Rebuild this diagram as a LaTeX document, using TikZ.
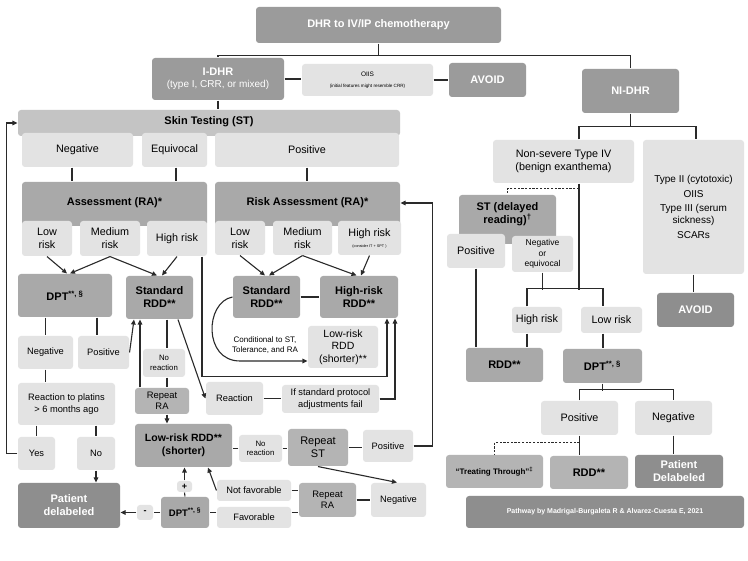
\documentclass[tikz,border=0pt]{standalone}
\usepackage{fontspec}
\setmainfont{Liberation Sans}
\usetikzlibrary{arrows.meta}
\definecolor{cdk}{HTML}{9B9B9B}
\definecolor{cdx}{HTML}{8E8E8E}
\definecolor{cmd}{HTML}{A9A9A9}
\definecolor{cmr}{HTML}{B4B4B4}
\definecolor{cst}{HTML}{C4C4C4}
\definecolor{clt}{HTML}{E3E3E3}
\definecolor{cln}{HTML}{2A2A2A}
\newcommand\fz[2]{\fontsize{#1}{#2}\selectfont}
\newcommand\bx[7]{\node[#2,minimum width={(#5-#3)*1pt},minimum height={(#6-#4)*1pt}] (#1) at ({(#3+#5)/2},{(#4+#6)/2}) {#7};}
\tikzset{
  bb/.style={rounded corners=3pt, inner sep=0.5pt, align=center, draw=none},
  dk/.style={bb, fill=cdk, text=white, font=\bfseries\fz{11}{13}},
  dkn/.style={bb, fill=cdk, text=white, font=\fz{10}{12}},
  dkx/.style={bb, fill=cdx, text=white, font=\bfseries\fz{11}{13}},
  md/.style={bb, fill=cmd, font=\bfseries\fz{11}{13}},
  mdL/.style={bb, fill=cmd, font=\bfseries\fz{10.5}{13}},
  mdb/.style={bb, fill=cmd},
  stb/.style={bb, fill=cst},
  mdr/.style={bb, fill=cmr, font=\fz{9.4}{11.5}},
  mdrL/.style={bb, fill=cmr, font=\fz{11}{13}},
  mdl/.style={bb, fill=cmr, font=\bfseries\fz{11}{13}},
  lt/.style={bb, fill=clt, font=\fz{9.3}{11.5}},
  ltL/.style={bb, fill=clt, font=\fz{10.8}{13}},
  ltM/.style={bb, fill=clt, font=\fz{10.5}{12.5}},
  ltT/.style={bb, fill=clt, font=\fz{10}{12}},
  ltN/.style={bb, fill=clt, font=\fz{8.5}{10.5}},
  lts/.style={bb, fill=clt, font=\fz{7.8}{9.5}},
  ttl/.style={font=\bfseries\fz{11}{13}, align=center, inner sep=0pt},
  arr/.style={-{Triangle[length=5pt,width=4.5pt]}},
  dsh/.style={dash pattern=on 2.2pt off 1.5pt}
}
\begin{document}
\begin{tikzpicture}[x=1pt,y=-1pt, line width=1.1pt, draw=cln]
\useasboundingbox[fill=white] (0,0) rectangle (748,561);
% top
\bx{top}{dk}{256}{7}{501}{43}{DHR to IV/IP chemotherapy}
\bx{idhr}{dkn}{152}{58}{284}{100}{\textbf{\fz{11}{13}I-DHR}\\(type I, CRR, or mixed)}
\bx{oiis}{lt}{302}{64}{433}{96}{{\fz{6.5}{8}OIIS}\\{\fz{4.6}{6}(initial features might resemble CRR)}}
\bx{avoidA}{dk}{449}{63}{526}{97}{AVOID}
\bx{nidhr}{dk}{582}{69}{679}{113}{NI-DHR}
% skin testing
\bx{stbar}{stb}{18}{110}{400}{136}{}
\node[ttl] (sttxt) at (209,122) {Skin Testing (ST)};
\bx{negA}{ltL}{22}{133}{133}{167}{Negative}
\bx{equA}{ltL}{142}{133}{207}{167}{Equivocal}
\bx{posA}{ltL}{215}{133}{399}{167}{Positive}
\bx{raA}{mdb}{22}{182}{207}{226}{}
\node[ttl] (raAt) at (114.5,203) {Assessment (RA)*};
\bx{raB}{mdb}{215}{182}{400}{226}{}
\node[ttl] (raBt) at (307.5,203) {Risk Assessment (RA)*};
\bx{lrA}{ltL}{22}{221}{72}{256}{Low\\risk}
\bx{mrA}{ltL}{80}{221}{140}{256}{Medium\\risk}
\bx{hrA}{ltL}{147}{221}{207}{256}{High risk}
\bx{lrB}{ltL}{215}{221}{265}{255}{Low\\risk}
\bx{mrB}{ltL}{273}{221}{332}{255}{Medium\\risk}
\bx{hrB}{ltL}{338}{221}{401}{255}{High risk\\[-2pt]{\fz{3.8}{4}(consider IT + SPT )}}
% middle
\bx{dptA}{md}{18}{274}{112}{317}{DPT\textsuperscript{**, §}}
\bx{srA}{md}{126}{276}{193}{319}{Standard\\RDD**}
\bx{srB}{md}{233}{276}{300}{318}{Standard\\RDD**}
\bx{hrdd}{md}{320}{276}{398}{318}{High-risk\\RDD**}
\bx{lrddB}{ltM}{308}{326}{378}{368}{Low-risk\\RDD\\(shorter)**}
\node[font=\fz{8}{10}, align=center, inner sep=0pt] (cond) at (265,345) {Conditional to ST,\\Tolerance, and RA};
\bx{negB}{lt}{18}{336}{73}{369}{Negative}
\bx{posB}{lt}{78}{336}{129}{369}{Positive}
\bx{nrA}{lts}{143}{349}{185}{377}{No\\reaction}
\bx{rraA}{mdr}{135}{388}{189}{414}{Repeat\\RA}
\bx{reac}{lt}{206}{382}{263}{415}{Reaction}
\bx{ifstd}{lt}{282}{385}{379}{413}{If standard protocol\\adjustments fail}
\bx{platin}{lt}{18}{383}{115}{425}{Reaction to platins\\> 6 months ago}
\bx{yes}{lt}{18}{437}{55}{470}{Yes}
\bx{no}{lt}{77}{437}{115}{470}{No}
\bx{pdelA}{dkx}{18}{483}{120}{528}{Patient\\delabeled}
\bx{lrddA}{mdL}{135}{424}{232}{467}{Low-risk RDD**\\(shorter)}
\bx{nrB}{lts}{239}{435}{282}{462}{No\\reaction}
\bx{rstA}{mdrL}{288}{429}{348}{466}{Repeat\\ST}
\bx{posC}{lt}{363}{430}{413}{462}{Positive}
\bx{negC}{lt}{371}{483}{426}{517}{Negative}
\bx{rraB}{mdr}{299}{483}{356}{517}{Repeat\\RA}
\bx{nfav}{lt}{217}{480}{291}{501}{Not favorable}
\bx{fav}{lt}{217}{507}{291}{528}{Favorable}
\bx{dptB}{bb,fill=cmd,font=\bfseries\fz{9.5}{11}}{161}{497}{209}{528}{DPT\textsuperscript{**, §}}
\bx{plus}{bb,fill=clt,font=\bfseries\fz{9}{10}}{177}{481}{192}{492}{+}
\bx{minus}{bb,fill=clt,font=\bfseries\fz{9}{10}}{137}{505}{153}{520}{-}
% right side
\bx{nsev}{ltL}{493}{140}{634}{183}{Non-severe Type IV\\(benign exanthema)}
\bx{typ2}{ltT}{643}{140}{744}{274}{Type II (cytotoxic)\\[2.5pt]OIIS\\[2.5pt]Type III (serum\\sickness)\\[2.5pt]SCARs}
\bx{avoidB}{dkx}{657}{293}{734}{327}{AVOID}
\bx{stdr}{mdb}{459}{195}{556}{244}{}
\node[font=\bfseries\fz{11}{12.5}, align=center, inner sep=0pt] (stdrt) at (507.5,214) {ST (delayed\\reading)\textsuperscript{†}};
\bx{posD}{ltL}{447}{234}{505}{268}{Positive}
\bx{negeq}{ltN}{512}{236}{573}{272}{Negative\\or\\equivocal}
\bx{hrr}{ltL}{512}{307}{562}{333}{High risk}
\bx{lrr}{ltL}{581}{307}{642}{333}{Low risk}
\bx{rddA}{md}{466}{348}{543}{382}{RDD**}
\bx{dptC}{md}{563}{349}{642}{383}{DPT\textsuperscript{**, §}}
\bx{posE}{ltL}{541}{401}{618}{435}{Positive}
\bx{negE}{ltL}{635}{401}{712}{435}{Negative}
\bx{tt}{bb,fill=cmr,font=\bfseries\fz{8}{10}}{446}{455}{543}{488}{“Treating Through”\textsuperscript{‡}}
\bx{rddB}{mdl}{550}{456}{628}{489}{RDD**}
\bx{pdelB}{dkx}{635}{455}{723}{488}{Patient\\Delabeled}
\bx{pw}{bb,fill=cdx,text=white,font=\bfseries\fz{7}{8}}{466}{496}{744}{528}{Pathway by Madrigal-Burgaleta R \& Alvarez-Cuesta E, 2021}
% ---------- connectors ----------
\draw (top.south) -- ++(0,12) coordinate (tj);
\draw (tj) -| (idhr.north);
\draw (tj) -| (nidhr.north);
\draw (idhr.east) -- (idhr.east -| oiis.west);
\draw (oiis.east) -- (oiis.east -| avoidA.west);
\draw (idhr.south) -- (idhr.south |- stbar.north);
\draw ([xshift=-5.5pt]negA.south) -- ([xshift=-42.5pt]raA.north);
\draw ([xshift=1.5pt]equA.south) -- ([xshift=61.5pt]raA.north);
\draw (posA.south) -- (posA.south |- raB.north);
\draw[arr] (lrA.south) -- ([xshift=2pt]dptA.north);
\draw[arr] (mrA.south) -- ([xshift=5pt]dptA.north);
\draw[arr] (mrA.south) -- ([xshift=-2.5pt]srA.north);
\draw[arr] (hrA.south) -- ([xshift=2.5pt]srA.north);
\draw[arr] (lrB.south) -- ([xshift=-1.5pt]srB.north);
\draw[arr] (mrB.south) -- ([xshift=2.5pt]srB.north);
\draw[arr] (mrB.south) -- ([xshift=-2.5pt]hrdd.north);
\draw[arr] (hrB.south) -- ([xshift=2pt]hrdd.north);
\draw (srB.east) -- (srB.east -| hrdd.west);
\draw[arr] (srB.west) .. controls (205,302) and (203,361) .. (240,361) -- ([yshift=-14pt]lrddB.west);
\draw[arr] ([xshift=25pt]hrA.south) -- ++(0,120) -| ([xshift=28pt]hrdd.south);
\draw[arr] (ifstd.east) -| ([xshift=36pt]hrdd.south);
\draw ([xshift=-19.5pt]dptA.south) -- (negB.north);
\draw ([xshift=32pt]dptA.south) -- ([xshift=-6.5pt]posB.north);
\draw[arr] (posB.east) -- ([xshift=-25.5pt]srA.south);
\draw ([xshift=7.5pt]srA.south) -- ([xshift=3pt]nrA.north);
\draw ([xshift=3pt]nrA.south) -- ([xshift=5pt]rraA.north);
\draw[arr] ([xshift=5pt]rraA.south) -- ([xshift=-16.5pt]lrddA.north);
\draw[arr] ([xshift=-22pt]rraA.north) -- ([xshift=-19.5pt]srA.south);
\draw[arr] ([xshift=18.5pt]srA.south) -- (reac.west);
\draw (reac.east) -- (reac.east -| ifstd.west);
\draw (negB.south) -- ([xshift=-21pt]platin.north);
\draw ([xshift=-30pt]platin.south) -- (yes.north);
\draw ([xshift=29.5pt]platin.south) -- (no.north);
\draw[arr] (no.south) -- ([xshift=27pt]pdelA.north);
\draw[arr] (yes.west) -- ++(-11,0) |- (stbar.west);
\draw (nrB.west) -- (nrB.west -| lrddA.east);
\draw (nrB.east) -- (nrB.east -| rstA.west);
\draw (rstA.east) -- (rstA.east -| posC.west);
\draw[arr] (posC.east) -- ++(19,0) |- ([yshift=1pt]raB.east);
\draw[arr] (rstA.south) -- ([xshift=-1.5pt]negC.north);
\draw (rraB.east) -- (rraB.east -| negC.west);
\draw (nfav.east) -- (nfav.east -| rraB.west);
\draw ([yshift=5pt]fav.east) -- ([yshift=5pt]fav.east -| rraB.west);
\draw ([yshift=5pt]fav.west) -- (dptB.east);
\draw[arr] (nfav.west) -- ([xshift=24.5pt]lrddA.south);
\draw (dptB.north) -- (plus.south);
\draw[arr] (plus.north) -- (plus.north |- lrddA.south);
\draw (dptB.west) -- (minus.east);
\draw[arr] (minus.west) -- (minus.west -| pdelA.east);
% right connectors
\draw (nidhr.south) -- ++(0,13) coordinate (nj);
\draw ([xshift=15.5pt]nsev.north) |- (nj) -| ([xshift=2.5pt]typ2.north);
\draw (typ2.south) -- (typ2.south |- avoidB.north);
\draw[dsh] ([xshift=15.5pt,yshift=-5pt]nsev.south) -| (stdr.north);
\draw ([xshift=15.5pt]nsev.south) -- ++(0,106);
\draw ([xshift=-10pt]hrr.north) -- ++(0,-18) -| ([xshift=-8.5pt]lrr.north);
\draw (negeq.south) -- ++(0,17);
\draw (posD.south) -- ([xshift=-28.5pt]rddA.north);
\draw ([xshift=-10pt]hrr.south) -- ([xshift=22.5pt]rddA.north);
\draw ([xshift=-8.5pt]lrr.south) -- ([xshift=0.5pt]dptC.north);
\draw (dptC.south) -- ++(0,7);
\draw (posE.north) -- ++(0,-11) -| (negE.north);
\draw (negE.south) -- ([xshift=-5.5pt]pdelB.north);
\draw (posE.south) -- ([xshift=-9.5pt]rddB.north);
\draw[dsh] ([yshift=-7pt]posE.south) -| (tt.north);
\end{tikzpicture}
\end{document}
